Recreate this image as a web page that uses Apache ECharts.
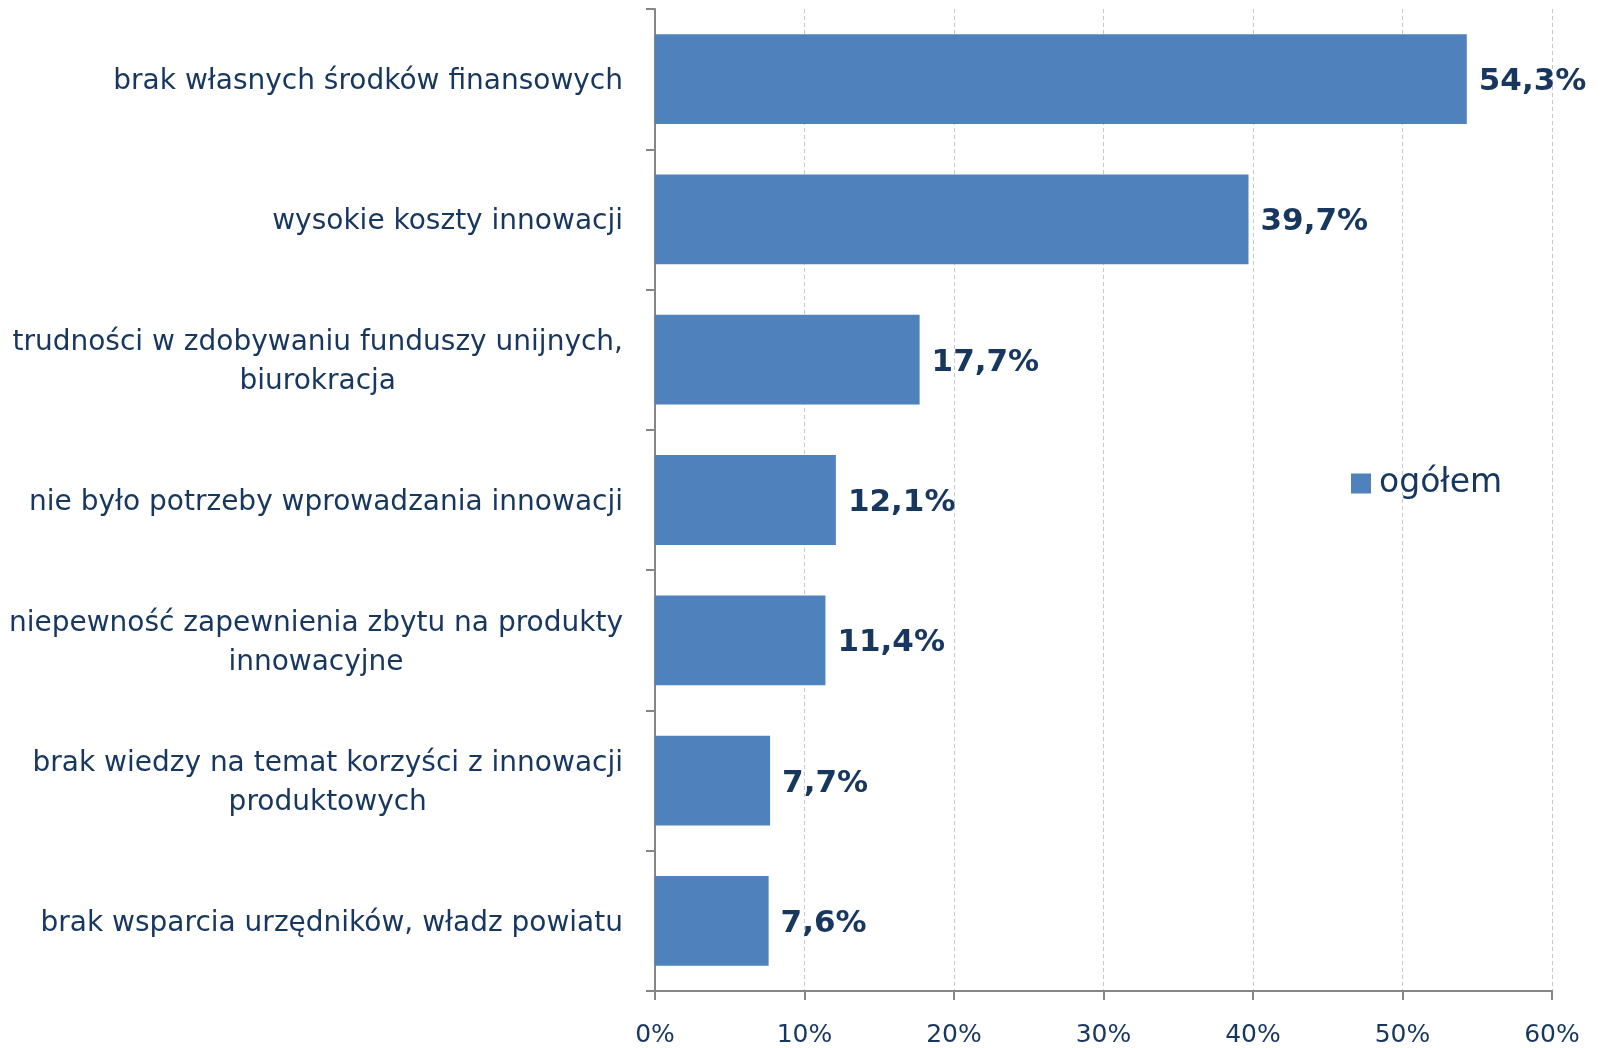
<!DOCTYPE html>
<html><head><meta charset="utf-8">
<script src="https://cdn.jsdelivr.net/npm/echarts@6/dist/echarts.min.js"></script>
<style>html,body{margin:0;padding:0;background:#fff}#c{width:1602px;height:1048px}</style>
</head><body><div id="c"></div>
<script>
const categories = [
  "brak własnych środków finansowych",
  "wysokie koszty innowacji",
  "trudności w zdobywaniu funduszy unijnych,\nbiurokracja",
  "nie było potrzeby wprowadzania innowacji",
  "niepewność zapewnienia zbytu na produkty\ninnowacyjne",
  "brak wiedzy na temat korzyści z innowacji\nproduktowych",
  "brak wsparcia urzędników, władz powiatu"
];
const values = [54.3, 39.7, 17.7, 12.1, 11.4, 7.7, 7.6];
const seriesName = "ogółem";
const xTicks = [0, 10, 20, 30, 40, 50, 60];

const FONT = "DejaVu Sans, sans-serif";
const TXT = "#17375E";
const LSIZE = 28;

const cv = document.createElement('canvas').getContext('2d');
cv.font = LSIZE + "px " + FONT;
const rich = {};
const labelFmt = {};
categories.forEach((c, i) => {
  const lines = c.split("\n");
  const w = Math.max(...lines.map(l => cv.measureText(l).width)) + 2;
  rich['l' + i] = { width: w, align: 'center', fontSize: LSIZE, fontFamily: FONT, color: TXT, lineHeight: 39 };
  labelFmt[c] = lines.map(l => '{l' + i + '|' + l + '}').join("\n");
});

const chart = echarts.init(document.getElementById('c'));
chart.setOption({
  backgroundColor: '#fff',
  animation: false,
  grid: { left: 655, right: 50, top: 9, bottom: 57, containLabel: false },
  legend: {
    data: [seriesName], left: 1346, top: 462, icon: 'rect', itemWidth: 20, itemHeight: 20, itemGap: 8,
    textStyle: { fontSize: 33, fontFamily: FONT, color: TXT, padding: [0, 0, 0, 3] }
  },
  xAxis: {
    type: 'value', min: xTicks[0], max: xTicks[xTicks.length - 1], interval: 10,
    axisLine: { show: true, lineStyle: { color: '#868686', width: 2 } },
    axisTick: { show: true, length: 9, lineStyle: { color: '#868686', width: 2 } },
    splitLine: { show: true, lineStyle: { color: '#c8c8c8', width: 1, type: [4, 3] } },
    axisLabel: { margin: 32, fontSize: 25, fontFamily: FONT, color: TXT, formatter: v => v + '%' }
  },
  yAxis: {
    type: 'category', inverse: true, data: categories,
    axisLine: { show: true, lineStyle: { color: '#868686', width: 2 } },
    axisTick: { show: true, length: 9, lineStyle: { color: '#868686', width: 2 } },
    axisLabel: { margin: 31, formatter: v => labelFmt[v], rich: rich, align: 'right', padding: [5, 0, 0, 0] }
  },
  series: [{
    name: seriesName, type: 'bar', data: values, barCategoryGap: '36%',
    itemStyle: { color: '#4F81BD' },
    label: {
      show: true, position: 'right', distance: 12, offset: [0, 3],
      fontSize: 31, fontWeight: 'bold', fontFamily: FONT, color: TXT,
      formatter: p => p.value.toFixed(1).replace('.', ',') + '%'
    }
  }]
});
</script></body></html>
